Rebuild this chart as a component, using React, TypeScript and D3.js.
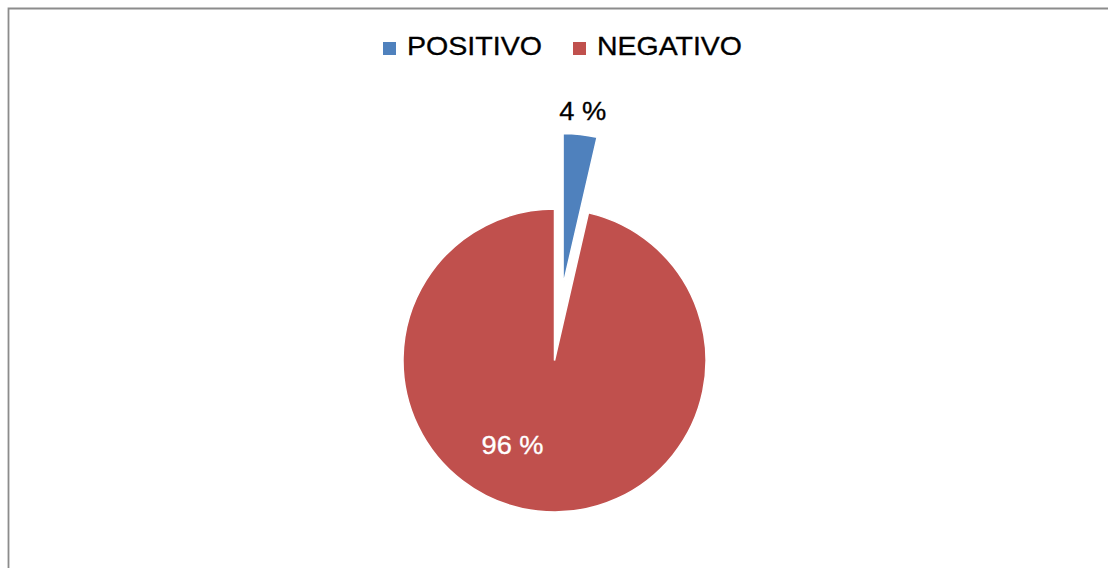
import React, { useLayoutEffect } from "react";
import * as d3 from "d3";

const categories = ["POSITIVO", "NEGATIVO"];
const values = [3.6, 96.4];
const labels = ["4 %", "96 %"];
const colors = ["#4F81BD", "#C0504D"];

const W = 1108;
const H = 568;

export default function App() {
  useLayoutEffect(() => {
    document.documentElement.style.overflow = "hidden";
    document.body.style.margin = "0";
    document.body.style.overflow = "hidden";
  }, []);

  const cx = 554.5;
  const cy = 360.5;
  const r = 151.5;
  const explode = 76;

  const pie = d3
    .pie<number>()
    .sort(null)
    .value((d) => d)
    .startAngle(0)
    .endAngle(2 * Math.PI);
  const arcs = pie(values);
  const arcGen = d3.arc<d3.PieArcDatum<number>>().innerRadius(0).outerRadius(r);

  const fontFamily = "'Liberation Sans', Arial, sans-serif";

  const legendX = [383, 573];
  const legendTextW = [135, 145];

  return (
    <svg
      width={W}
      height={H}
      style={{ position: "fixed", left: 0, top: 0, display: "block" }}
    >
      <rect x={0} y={0} width={W} height={H} fill="#ffffff" />
      <path
        d={`M8.5,${H + 10} V8.5 H${W + 10}`}
        fill="none"
        stroke="#8c8c8c"
        strokeWidth={1.8}
      />
      {categories.map((c, i) => (
        <g key={c}>
          <rect x={legendX[i]} y={42} width={13} height={13} fill={colors[i]} />
          <text
            x={legendX[i] + 24}
            y={55}
            fontFamily={fontFamily}
            fontSize={25}
            fill="#000"
            stroke="#000"
            strokeWidth={0.3}
            textLength={legendTextW[i]}
            lengthAdjust="spacingAndGlyphs"
          >
            {c}
          </text>
        </g>
      ))}
      {arcs.map((a, i) => {
        const mid = (a.startAngle + a.endAngle) / 2;
        const off = i === 0 ? explode : 0;
        const ox = cx + off * Math.sin(mid);
        const oy = cy - off * Math.cos(mid);
        return (
          <path
            key={i}
            d={arcGen(a) || ""}
            transform={`translate(${ox},${oy})`}
            fill={colors[i]}
            stroke="#ffffff"
            strokeWidth={1.5}
          />
        );
      })}
      {arcs.map((a, i) => {
        const mid = (a.startAngle + a.endAngle) / 2;
        let lx: number;
        let ly: number;
        if (i === 0) {
          const ox = cx + explode * Math.sin(mid);
          const oy = cy - explode * Math.cos(mid);
          lx = ox + 175 * Math.sin(mid);
          ly = oy - 175 * Math.cos(mid);
        } else {
          const ang = mid + 0.35;
          lx = cx + 94 * Math.sin(ang);
          ly = cy - 94 * Math.cos(ang);
        }
        return (
          <text
            key={"l" + i}
            x={lx}
            y={ly + 9}
            textAnchor="middle"
            fontFamily={fontFamily}
            fontSize={25}
            fill={i === 0 ? "#000" : "#fff"}
            stroke={i === 0 ? "#000" : "#fff"}
            strokeWidth={0.3}
            textLength={i === 0 ? 47 : 62}
            lengthAdjust="spacingAndGlyphs"
          >
            {labels[i]}
          </text>
        );
      })}
    </svg>
  );
}
